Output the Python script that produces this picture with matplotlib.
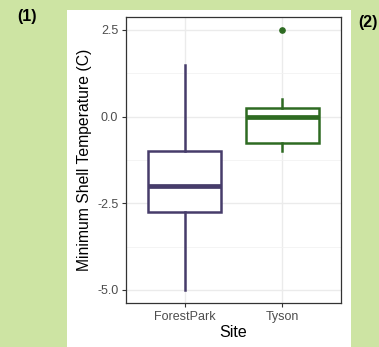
import matplotlib
matplotlib.use("Agg")
import matplotlib.pyplot as plt
from matplotlib.patches import Rectangle

plt.rcParams['font.family'] = ['Liberation Sans', 'DejaVu Sans']

sites = ['ForestPark', 'Tyson']
colors = ['#463c6a', '#2e6b22']
whislo = [-5.0, -1.0]
q1 = [-2.75, -0.75]
med = [-2.0, 0.0]
q3 = [-1.0, 0.25]
whishi = [1.5, 0.5]
fliers = [[], [2.5]]
yticks = [-5.0, -2.5, 0.0, 2.5]

fig = plt.figure(figsize=(3.79, 3.47), dpi=100)
fig.patch.set_facecolor('#cde4a3')
fig.patches.append(Rectangle((67/379, 0), (351-67)/379, 1-10/347,
                             transform=fig.transFigure, facecolor='white',
                             edgecolor='none', zorder=-10))
ax = fig.add_axes([126/379, 1-303/347, (341-126)/379, (303-17)/347])
ax.set_facecolor('white')

for i in range(len(sites)):
    st = [dict(whislo=whislo[i], q1=q1[i], med=med[i], q3=q3[i],
               whishi=whishi[i], fliers=fliers[i])]
    c = colors[i]
    ax.bxp(st, positions=[i+1], widths=0.75, showcaps=False, patch_artist=True,
           boxprops=dict(facecolor='white', edgecolor=c, linewidth=1.8),
           whiskerprops=dict(color=c, linewidth=1.8),
           medianprops=dict(color=c, linewidth=3.4),
           flierprops=dict(marker='o', markerfacecolor=c, markeredgecolor=c,
                           markersize=3.8))

ax.set_xlim(0.4, 2.6)
ax.set_ylim(-5.375, 2.875)
ax.set_yticks(yticks)
ax.set_yticklabels(['%.1f' % v for v in yticks])
ax.set_yticks([-3.75, -1.25, 1.25], minor=True)
ax.set_xticks([1, 2])
ax.set_xticklabels(sites)
ax.grid(True, which='major', color='#ebebeb', linewidth=1.0, zorder=0)
ax.grid(True, which='minor', axis='y', color='#f2f2f2', linewidth=0.6, zorder=0)
ax.set_axisbelow(True)
ax.tick_params(which='minor', length=0)
ax.tick_params(which='major', colors='#333333', labelcolor='#4d4d4d',
               labelsize=9, length=3, width=0.8, pad=2.5)
for s in ax.spines.values():
    s.set_color('#333333')
    s.set_linewidth(0.9)
ax.set_xlabel('Site', fontsize=11.5, color='black', labelpad=2)
ax.set_ylabel('Minimum Shell Temperature (C)', fontsize=11.3, color='black', labelpad=4)

fig.text(27/379, 1-17/347, '(1)', fontsize=11.5, fontweight='bold', ha='center', va='center')
fig.text(378/379, 1-22/347, '(2)', fontsize=11.5, fontweight='bold', ha='right', va='center')

fig.savefig('out.png', dpi=100, facecolor=fig.get_facecolor())
